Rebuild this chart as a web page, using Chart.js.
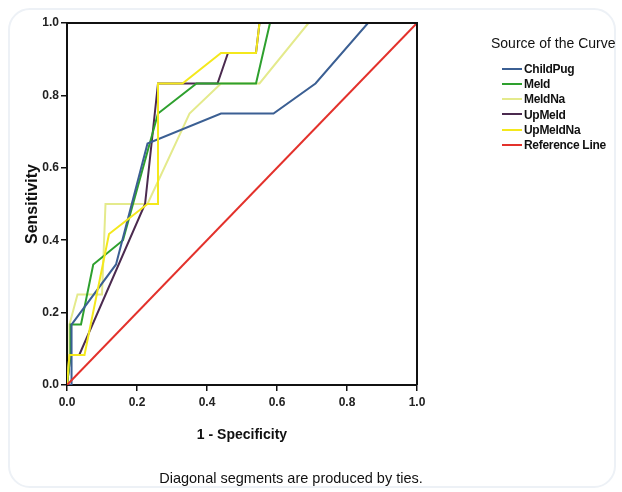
<!DOCTYPE html>
<html>
<head>
<meta charset="utf-8">
<script src="https://cdn.jsdelivr.net/npm/chart.js@4.4.0/dist/chart.umd.min.js"></script>
<style>
  html, body { margin: 0; padding: 0; background: #fff; }
  #wrap { position: relative; width: 622px; height: 492px; overflow: hidden;
          font-family: "Liberation Sans", Arial, sans-serif; color: #111; }
  #frame { position: absolute; left: 8px; top: 8px; right: 6px; bottom: 4px;
           border: 2px solid #edf1f6; border-radius: 22px; }
  canvas { position: absolute; left: 0; top: 0; }
  .legend-title { position: absolute; left: 491px; top: 35px; font-size: 14px; white-space: nowrap; }
  .legend-row { position: absolute; left: 502px; height: 14px; font-size: 12px; font-weight: bold;
                line-height: 14px; white-space: nowrap; letter-spacing: -0.3px; }
  .legend-row span.swatch { display: inline-block; width: 20px; height: 2px; vertical-align: middle;
                            margin-right: 2px; position: relative; top: -1px; }
  #note { position: absolute; left: 141px; width: 300px; top: 470px; text-align: center;
          font-size: 14.5px; white-space: nowrap; }
</style>
</head>
<body>
<div id="wrap">
  <div id="frame"></div>
  <canvas id="roc" width="622" height="492"></canvas>
  <div class="legend-title">Source of the Curve</div>
  <div id="legend"></div>
  <div id="note">Diagonal segments are produced by ties.</div>
</div>
<script>
// ROC curves (1 - specificity, sensitivity)
const childPugX = [0, 0.013, 0.013, 0.14, 0.23, 0.44, 0.59, 0.71, 0.86, 1];
const childPugY = [0, 0, 0.167, 0.333, 0.667, 0.75, 0.75, 0.833, 1, 1];

const meldX = [0, 0.01, 0.01, 0.04, 0.075, 0.16, 0.2, 0.26, 0.37, 0.54, 0.58, 1];
const meldY = [0, 0.083, 0.167, 0.167, 0.333, 0.4, 0.54, 0.75, 0.833, 0.833, 1, 1];

const meldNaX = [0, 0.007, 0.007, 0.03, 0.1, 0.11, 0.23, 0.35, 0.44, 0.55, 0.69, 1];
const meldNaY = [0, 0.083, 0.167, 0.25, 0.25, 0.5, 0.5, 0.75, 0.833, 0.833, 1, 1];

const upMeldX = [0, 0.01, 0.035, 0.223, 0.26, 0.43, 0.46, 0.54, 0.55, 1];
const upMeldY = [0, 0.083, 0.083, 0.5, 0.833, 0.833, 0.917, 0.917, 1, 1];

const upMeldNaX = [0, 0.007, 0.05, 0.12, 0.23, 0.26, 0.26, 0.33, 0.44, 0.54, 0.55, 1];
const upMeldNaY = [0, 0.083, 0.083, 0.417, 0.5, 0.5, 0.833, 0.833, 0.917, 0.917, 1, 1];

const refX = [0, 1];
const refY = [0, 1];

const seriesNames = ["ChildPug", "Meld", "MeldNa", "UpMeld", "UpMeldNa", "Reference Line"];
const seriesColors = ["#3b5f93", "#2ea02e", "#e4ea8c", "#4b2a4f", "#f4e81c", "#e3312b"];
const axisTicks = [0, 0.2, 0.4, 0.6, 0.8, 1.0];

function toPoints(xs, ys) {
    return xs.map((x, i) => ({ x: x, y: ys[i] }));
}

const allX = [childPugX, meldX, meldNaX, upMeldX, upMeldNaX, refX];
const allY = [childPugY, meldY, meldNaY, upMeldY, upMeldNaY, refY];
// drawing order: lower number ends up on top
const drawOrder = [3, 4, 6, 5, 2, 1];

const datasets = seriesNames.map((name, i) => ({
    label: name,
    data: toPoints(allX[i], allY[i]),
    borderColor: seriesColors[i],
    backgroundColor: seriesColors[i],
    borderWidth: 2,
    showLine: true,
    pointRadius: 0,
    tension: 0,
    fill: false,
    order: drawOrder[i]
}));

// legend as plain text next to the chart
const legend = document.getElementById("legend");
seriesNames.forEach((name, i) => {
    const row = document.createElement("div");
    row.className = "legend-row";
    row.style.top = (62 + i * 15.2) + "px";
    row.innerHTML = '<span class="swatch" style="background:' + seriesColors[i] + '"></span>' + name;
    legend.appendChild(row);
});

// top and right edges of the plot box
const framePlugin = {
    id: "frame",
    afterDatasetsDraw(chart) {
        const ctx = chart.ctx;
        const a = chart.chartArea;
        ctx.save();
        ctx.strokeStyle = "#111";
        ctx.lineWidth = 2;
        ctx.beginPath();
        ctx.moveTo(a.left, a.top);
        ctx.lineTo(a.right, a.top);
        ctx.lineTo(a.right, a.bottom);
        ctx.stroke();
        ctx.restore();
    }
};

const tickFont = { family: "'Liberation Sans', Arial, sans-serif", size: 12, weight: "bold" };

new Chart(document.getElementById("roc").getContext("2d"), {
    type: "scatter",
    data: { datasets: datasets },
    plugins: [framePlugin],
    options: {
        responsive: false,
        animation: false,
        layout: { padding: { top: 23, right: 205, left: 0, bottom: 0 } },
        plugins: {
            legend: { display: false },
            tooltip: { enabled: false }
        },
        scales: {
            x: {
                type: "linear",
                min: 0,
                max: 1,
                afterBuildTicks: (scale) => { scale.ticks = axisTicks.map(v => ({ value: v })); },
                afterFit: (scale) => { scale.height = 107; },
                ticks: { color: "#222", font: tickFont, padding: 4, callback: v => v.toFixed(1), maxRotation: 0 },
                grid: { drawOnChartArea: false, color: "#111", lineWidth: 1.5, tickLength: 6 },
                border: { display: true, color: "#111", width: 2 },
                title: {
                    display: true,
                    text: "1 - Specificity",
                    color: "#111",
                    font: { family: "'Liberation Sans', Arial, sans-serif", size: 14, weight: "bold" },
                    padding: { top: 0, bottom: 48 }
                }
            },
            y: {
                type: "linear",
                min: 0,
                max: 1,
                afterBuildTicks: (scale) => { scale.ticks = axisTicks.map(v => ({ value: v })); },
                afterFit: (scale) => { scale.width = 67; },
                ticks: { color: "#222", font: tickFont, padding: 2, callback: v => v.toFixed(1) },
                grid: { drawOnChartArea: false, color: "#111", lineWidth: 1.5, tickLength: 6 },
                border: { display: true, color: "#111", width: 2 },
                title: {
                    display: true,
                    text: "Sensitivity",
                    color: "#111",
                    font: { family: "'Liberation Sans', Arial, sans-serif", size: 16, weight: "bold" },
                    padding: { top: 23, bottom: 0 }
                }
            }
        }
    }
});
</script>
</body>
</html>
